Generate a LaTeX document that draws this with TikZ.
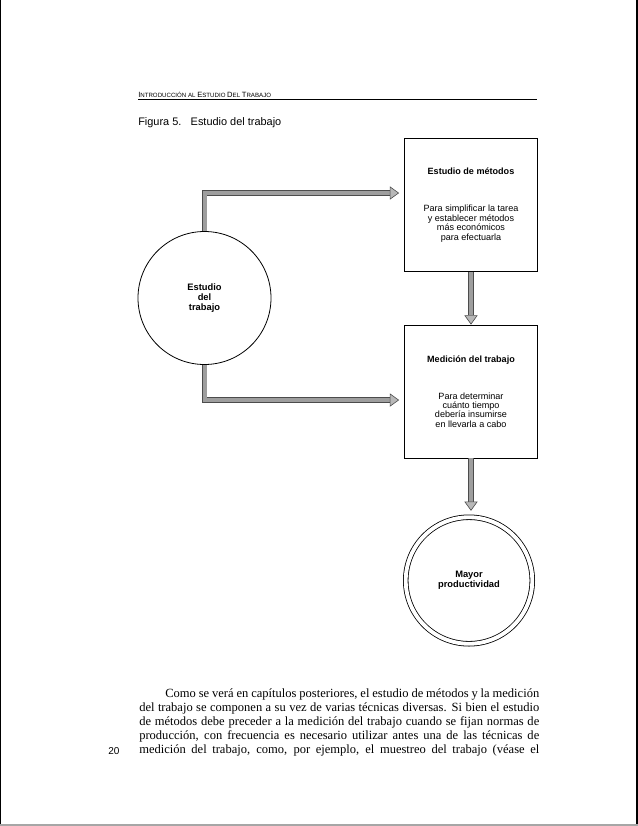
\documentclass[tikz,border=0pt]{standalone}
\usepackage{fontspec}
\setmainfont{Liberation Serif}
\setsansfont{Liberation Sans}
\usetikzlibrary{positioning,arrows.meta}
\usepackage{xcolor}
\definecolor{shaftgray}{gray}{0.62}
\definecolor{edgegray}{gray}{0.3}
\definecolor{headgray}{gray}{0.72}
\newcommand{\hdcap}[2]{{\fontsize{5.7}{6}\selectfont #1}{\fontsize{4.6}{6}\selectfont #2}}

\begin{document}
\begin{tikzpicture}[x=0.75pt,y=-0.75pt,
  >={Triangle[length=7pt 0 0,width=10pt 0 0,line width=0.45pt 0 0,color=edgegray,fill=headgray]},
  box/.style={draw,line width=0.6pt,minimum width=99.75pt,minimum height=99.75pt,inner sep=0pt,align=center,font=\sffamily\fontsize{6.8}{7.1}\selectfont},
  ring/.style={circle,draw,line width=0.6pt,inner sep=0pt,align=center,font=\sffamily\bfseries\fontsize{7}{7.3}\selectfont},
  flow/.style={->,draw=edgegray,line width=0.5pt,double=shaftgray,double distance=3pt}]
\useasboundingbox (0,0) rectangle (638,826);
\draw[line width=0.75pt] (0.5,0) -- (0.5,824);
\draw[line width=1pt] (637,0) -- (637,824);
\fill[gray!70] (0,824) rectangle (638,826);

\node[anchor=base west,inner sep=0pt,font=\sffamily\fontsize{4.6}{6}\selectfont] (header) at (138,97.3) {\hdcap{I}{NTRODUCCIÓN} \hdcap{}{AL} \hdcap{E}{STUDIO} \hdcap{D}{EL} \hdcap{T}{RABAJO}};
\draw[line width=0.4pt] (138,99.6) -- (537,99.6);
\node[anchor=base west,inner sep=0pt,font=\sffamily\fontsize{8.2}{10}\selectfont] (caption) at (138,125) {Figura 5.\hspace{7pt}Estudio del trabajo};

\node[box] (metodos) at (471,205) {{\bfseries Estudio de métodos}\\[20.6pt]Para simplificar la tarea\\y establecer métodos\\más económicos\\para efectuarla};
\node[box] (medicion) at (471,391.5) {{\bfseries Medición del trabajo}\\[20.6pt]Para determinar\\cuánto tiempo\\debería insumirse\\en llevarla a cabo};
\node[ring,minimum size=99.75pt] (estudio) at (204.5,298) {Estudio\\del\\trabajo};
\node[ring,double,double distance=2.9pt,minimum size=94.9pt] (prod) at (469,580.5) {Mayor\\productividad};

\draw[flow] (estudio.north) |- ([yshift=9pt,xshift=-3.75pt]metodos.west);
\draw[flow] (estudio.south) |- ([yshift=-6.4pt,xshift=-3.75pt]medicion.west);
\draw[flow] (metodos.south) -- (medicion.north);
\draw[flow,shorten >=4.5pt] (medicion.south) -- (medicion.south |- prod.north);

\node[anchor=base west,inner sep=0pt,text width=300pt,align=justify,font=\rmfamily\fontsize{9.4}{10.65}\selectfont] (body) at (139,697) {\setlength{\parfillskip}{0pt}\hspace*{19.5pt}Como se verá en capítulos posteriores, el estudio de métodos y la medición\linebreak del trabajo se componen a su vez de varias técnicas diversas. Si bien el estudio\linebreak de métodos debe preceder a la medición del trabajo cuando se fijan normas de\linebreak producción, con frecuencia es necesario utilizar antes una de las técnicas de\linebreak medición del trabajo, como, por ejemplo, el muestreo del trabajo (véase el\par};
\node[anchor=base west,inner sep=0pt,font=\sffamily\fontsize{7.5}{9}\selectfont] (pageno) at (108,754) {20};
\end{tikzpicture}
\end{document}
